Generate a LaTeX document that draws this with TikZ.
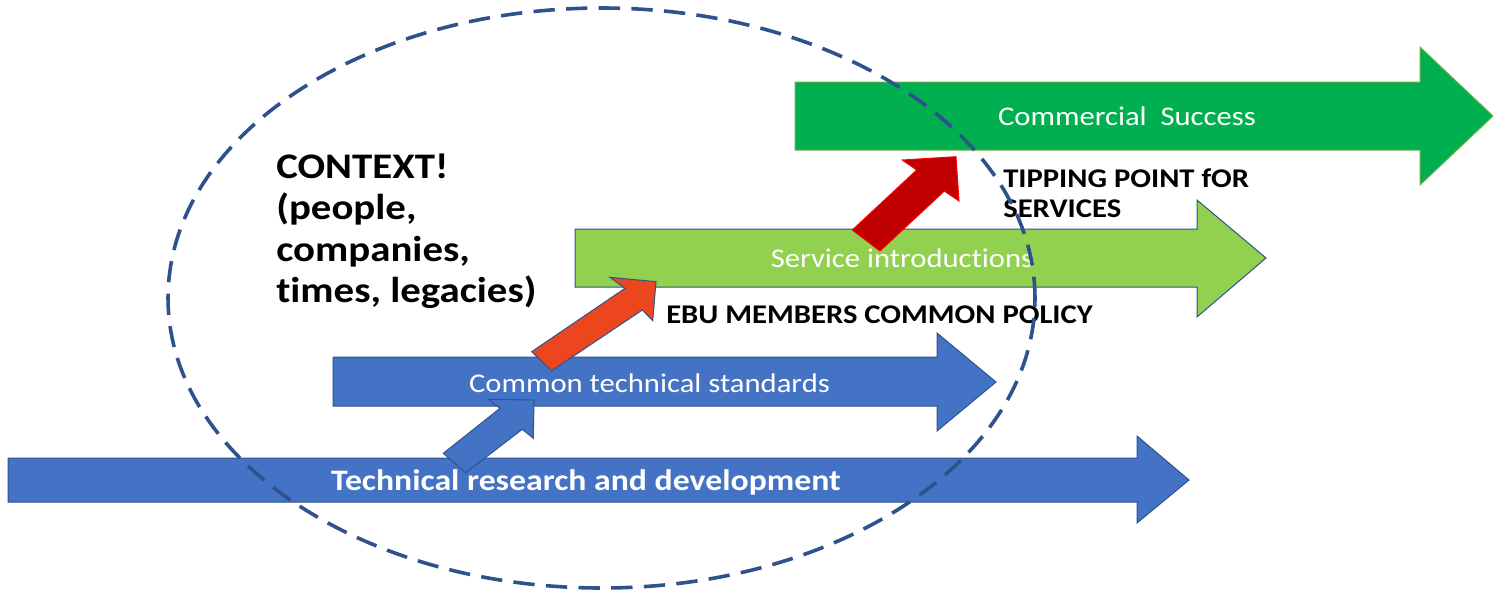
\documentclass[tikz,border=0pt]{standalone}
\usepackage{fontspec}
\setmainfont{Carlito}[FakeStretch=1.135, Ligatures=NoCommon]
\definecolor{ofblue}{RGB}{68,114,196}
\definecolor{ofline}{RGB}{47,82,143}
\definecolor{ltgreen}{RGB}{146,208,80}
\definecolor{dkgreen}{RGB}{0,176,80}
\definecolor{grline}{RGB}{112,173,71}
\definecolor{ebuorange}{RGB}{236,70,30}
\definecolor{tipred}{RGB}{192,0,0}
\definecolor{tipline}{RGB}{255,0,0}
\tikzset{
  blueshape/.style={fill=ofblue, draw=ofline, line width=0.75pt, line join=miter},
  lgshape/.style={fill=ltgreen, draw=ofline, line width=0.75pt},
  dgshape/.style={fill=dkgreen, draw=grline, line width=0.75pt},
  orshape/.style={fill=ebuorange, draw=ofline, line width=0.75pt},
  rdshape/.style={fill=tipred, draw=tipline, line width=0.75pt},
  wlabel/.style={text=white, inner sep=0, anchor=base, font=\fontsize{20.25}{22}\selectfont},
  blabel/.style={text=black, inner sep=0, anchor=base west, align=left, font=\bfseries\fontsize{20.25}{22.5}\selectfont},
  ctxring/.style={draw=ofline, line width=2.7pt, dash pattern=on 16pt off 8.5pt}
}
\begin{document}
\begin{tikzpicture}[x=0.75pt,y=-0.75pt]
\useasboundingbox (0,0) rectangle (1493,594);
% Technical research and development
\draw[blueshape] (8,458) -- (1137,458) -- (1137,436) -- (1189,480) -- (1137,523) -- (1137,502) -- (8,502) -- cycle;
% Common technical standards
\draw[blueshape] (333,357) -- (937,357) -- (937,333) -- (996,382) -- (937,431) -- (937,406) -- (333,406) -- cycle;
% small blue diagonal arrow
\draw[blueshape] (443.3,453.3) -- (500,408.3) -- (488.3,399.3) -- (534,400) -- (533.3,438.3) -- (522.3,429.3) -- (465.7,472.7) -- cycle;
% Service introductions
\draw[lgshape] (575,229) -- (1197,229) -- (1197,200) -- (1266,258) -- (1197,317) -- (1197,287) -- (575,287) -- cycle;
% EBU orange diagonal arrow
\draw[orshape] (531.7,351.7) -- (625,288.3) -- (610,277.3) -- (656,281.7) -- (652.7,320.7) -- (642.3,310) -- (551.7,370.7) -- cycle;
% Commercial success
\draw[dgshape] (795,82) -- (1420,82) -- (1420,47) -- (1493,116) -- (1420,185) -- (1420,150) -- (795,150) -- cycle;
% Tipping point red diagonal arrow
\draw[rdshape] (852.3,230) -- (916.7,170) -- (902.3,160) -- (956,156.7) -- (959,201) -- (944.3,191) -- (880,251) -- cycle;
% labels
\node[wlabel, font=\bfseries\fontsize{22.3}{24}\selectfont] (rd) at (586,490) {Technical research and development};
\node[wlabel] (cts) at (649.5,392) {Common technical standards};
\node[wlabel] (si) at (902,267) {Service introductions};
\node[wlabel] (cs) at (1127,125) {Commercial\ \ Success};
\node[blabel] (ebu) at (666,323) {EBU MEMBERS COMMON POLICY};
\node[blabel] (tip) at (1003,217) {TIPPING POINT fOR\\SERVICES};
\node[blabel, font=\bfseries\fontsize{27}{31.1}\selectfont] (ctx) at (276,302.5) {CONTEXT!\\(people,\\companies,\\times, legacies)};
% context ellipse
\draw[ctxring] (601.5,298) ellipse [x radius=325.1pt, y radius=217.5pt];
\end{tikzpicture}
\end{document}
